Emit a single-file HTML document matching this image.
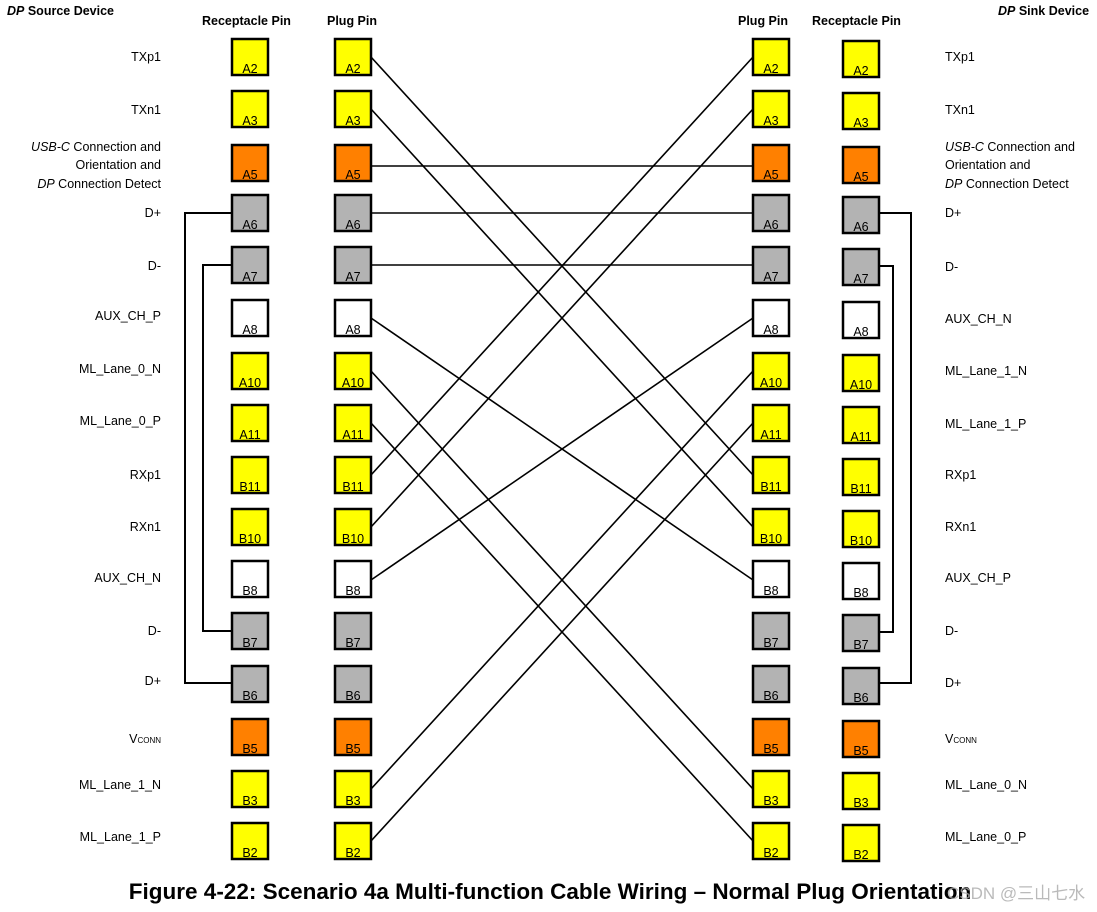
<!DOCTYPE html>
<html><head><meta charset="utf-8"><style>
body{margin:0;background:#fff}
svg{display:block}
text{font-family:"Liberation Sans",sans-serif;fill:#000}
.l{font-size:12.5px}
.b{font-size:12.5px;text-anchor:middle}
</style></head><body>
<svg width="1097" height="912" viewBox="0 0 1097 912" xmlns="http://www.w3.org/2000/svg">
<g font-size="12.5" font-weight="bold">
<text x="7" y="15"><tspan font-style="italic">DP</tspan> Source Device</text>
<text x="202" y="25">Receptacle  Pin</text>
<text x="327" y="25">Plug Pin</text>
<text x="738" y="25">Plug Pin</text>
<text x="812" y="25">Receptacle  Pin</text>
<text x="998" y="15"><tspan font-style="italic">DP</tspan> Sink Device</text>
</g>
<g class="l" text-anchor="end">
<text x="161" y="61">TXp1</text>
<text x="161" y="114">TXn1</text>
<text x="161" y="151"><tspan font-style="italic">USB-C</tspan> Connection and</text>
<text x="161" y="169">Orientation and</text>
<text x="161" y="188"><tspan font-style="italic">DP</tspan> Connection Detect</text>
<text x="161" y="217">D+</text>
<text x="161" y="270">D-</text>
<text x="161" y="320">AUX_CH_P</text>
<text x="161" y="373">ML_Lane_0_N</text>
<text x="161" y="425">ML_Lane_0_P</text>
<text x="161" y="479">RXp1</text>
<text x="161" y="531">RXn1</text>
<text x="161" y="582">AUX_CH_N</text>
<text x="161" y="635">D-</text>
<text x="161" y="685">D+</text>
<text x="161" y="743">V<tspan font-size="8">CONN</tspan></text>
<text x="161" y="789">ML_Lane_1_N</text>
<text x="161" y="841">ML_Lane_1_P</text>
</g>
<g class="l">
<text x="945" y="61">TXp1</text>
<text x="945" y="114">TXn1</text>
<text x="945" y="151"><tspan font-style="italic">USB-C</tspan> Connection and</text>
<text x="945" y="169">Orientation and</text>
<text x="945" y="188"><tspan font-style="italic">DP</tspan> Connection Detect</text>
<text x="945" y="217">D+</text>
<text x="945" y="271">D-</text>
<text x="945" y="323">AUX_CH_N</text>
<text x="945" y="375">ML_Lane_1_N</text>
<text x="945" y="428">ML_Lane_1_P</text>
<text x="945" y="479">RXp1</text>
<text x="945" y="531">RXn1</text>
<text x="945" y="582">AUX_CH_P</text>
<text x="945" y="635">D-</text>
<text x="945" y="687">D+</text>
<text x="945" y="743">V<tspan font-size="8">CONN</tspan></text>
<text x="945" y="789">ML_Lane_0_N</text>
<text x="945" y="841">ML_Lane_0_P</text>
</g>
<g stroke="#000" stroke-width="1.6" fill="none">
<line x1="371" y1="57" x2="753" y2="475"/>
<line x1="371" y1="109" x2="753" y2="527"/>
<line x1="371" y1="166" x2="753" y2="166"/>
<line x1="371" y1="213" x2="753" y2="213"/>
<line x1="371" y1="265" x2="753" y2="265"/>
<line x1="371" y1="318" x2="753" y2="580"/>
<line x1="371" y1="371" x2="753" y2="789"/>
<line x1="371" y1="423" x2="753" y2="841"/>
<line x1="371" y1="475" x2="753" y2="57"/>
<line x1="371" y1="527" x2="753" y2="109"/>
<line x1="371" y1="580" x2="753" y2="318"/>
<line x1="371" y1="789" x2="753" y2="371"/>
<line x1="371" y1="841" x2="753" y2="423"/>
<polyline points="232,213 185,213 185,683 232,683" stroke-width="2"/>
<polyline points="232,265 203,265 203,631 232,631" stroke-width="2"/>
<polyline points="879,213 911,213 911,683 879,683" stroke-width="2"/>
<polyline points="879,266 893,266 893,632 879,632" stroke-width="2"/>
</g>
<g stroke="#000" stroke-width="2.5">
<g id="c1">
<rect x="232" y="39" width="36" height="36" fill="#ffff00"/>
<rect x="232" y="91" width="36" height="36" fill="#ffff00"/>
<rect x="232" y="145" width="36" height="36" fill="#ff8000"/>
<rect x="232" y="195" width="36" height="36" fill="#b3b3b3"/>
<rect x="232" y="247" width="36" height="36" fill="#b3b3b3"/>
<rect x="232" y="300" width="36" height="36" fill="#fff"/>
<rect x="232" y="353" width="36" height="36" fill="#ffff00"/>
<rect x="232" y="405" width="36" height="36" fill="#ffff00"/>
<rect x="232" y="457" width="36" height="36" fill="#ffff00"/>
<rect x="232" y="509" width="36" height="36" fill="#ffff00"/>
<rect x="232" y="561" width="36" height="36" fill="#fff"/>
<rect x="232" y="613" width="36" height="36" fill="#b3b3b3"/>
<rect x="232" y="666" width="36" height="36" fill="#b3b3b3"/>
<rect x="232" y="719" width="36" height="36" fill="#ff8000"/>
<rect x="232" y="771" width="36" height="36" fill="#ffff00"/>
<rect x="232" y="823" width="36" height="36" fill="#ffff00"/>
</g>
<use href="#c1" x="103"/>
<use href="#c1" x="521"/>
<use href="#c1" x="611" y="2"/>
</g>
<g class="b">
<g id="t1">
<text x="250" y="73">A2</text>
<text x="250" y="125">A3</text>
<text x="250" y="179">A5</text>
<text x="250" y="229">A6</text>
<text x="250" y="281">A7</text>
<text x="250" y="334">A8</text>
<text x="250" y="387">A10</text>
<text x="250" y="439">A11</text>
<text x="250" y="491">B11</text>
<text x="250" y="543">B10</text>
<text x="250" y="595">B8</text>
<text x="250" y="647">B7</text>
<text x="250" y="700">B6</text>
<text x="250" y="753">B5</text>
<text x="250" y="805">B3</text>
<text x="250" y="857">B2</text>
</g>
<use href="#t1" x="103"/>
<use href="#t1" x="521"/>
<use href="#t1" x="611" y="2"/>
</g>
<text x="550" y="899" text-anchor="middle" font-size="22.5" font-weight="bold">Figure 4-22: Scenario 4a Multi-function Cable Wiring – Normal Plug Orientation</text>
<text x="947" y="899" font-size="17" style="fill:#aaa;font-family:'Liberation Sans','Noto Sans CJK SC',sans-serif" opacity="0.8">CSDN @三山七水</text>
</svg>
</body></html>
